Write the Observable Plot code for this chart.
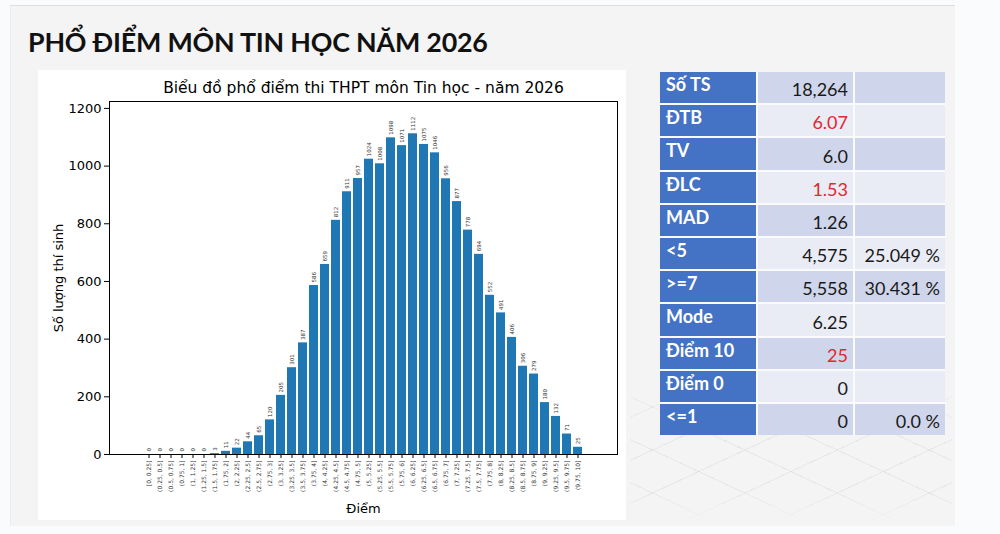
<!DOCTYPE html>
<html>
<head>
<meta charset="utf-8">
<script src="https://cdn.jsdelivr.net/npm/d3@7"></script>
<script src="https://cdn.jsdelivr.net/npm/@observablehq/plot@0.6"></script>
<style>
  html, body { margin: 0; padding: 0; }
  body { width: 1000px; height: 534px; background: #fafbfd; position: relative; overflow: hidden; font-family: "DejaVu Sans", sans-serif; }
  #panel { position: absolute; left: 10px; top: 5px; width: 944px; height: 520px; background: #f4f4f4; border-top: 1px solid #dedede; border-left: 1px solid #ececec; }
  #pattern { position: absolute; left: 630px; top: 360px; width: 322px; height: 165px;
    background:
      repeating-linear-gradient(25deg, transparent 0 38px, rgba(0,0,0,0.05) 38px 39px),
      repeating-linear-gradient(-25deg, transparent 0 38px, rgba(0,0,0,0.05) 38px 39px);
    -webkit-mask-image: linear-gradient(to bottom, transparent, black 40%, black 80%, transparent);
  }
  #title { position: absolute; left: 28px; top: 26px; font-family: "Lato", sans-serif; font-weight: 700; font-size: 26.8px; color: #111; white-space: nowrap; letter-spacing: -0.2px; }
  #chartbox { position: absolute; left: 38px; top: 70px; width: 588px; height: 450px; background: #fff; }
  #chartbox svg { position: absolute; left: 0; top: 0; }
  #table { position: absolute; left: 660px; top: 72px; display: grid; grid-template-columns: 96px 95px 90px; grid-auto-rows: 31.2px; gap: 2px; background: #fbfbfd; font-family: "Lato", sans-serif; }
  .lab { background: #4472c4; color: #fff; font-weight: 700; font-size: 18px; padding: 1px 0 0 6px; line-height: 22px; }
  .val { font-size: 18px; color: #1a1a1a; text-align: right; padding: 0 5px 0 0; line-height: 20px; display: flex; align-items: flex-end; justify-content: flex-end; padding-bottom: 4px; box-sizing: border-box; }
  .dark { background: #cfd5ea; }
  .light { background: #e9ebf5; }
  .red { color: #e3262f; }
</style>
</head>
<body>
<div id="panel"></div>
<div id="pattern"></div>
<div id="title">PHỔ ĐIỂM MÔN TIN HỌC NĂM 2026</div>
<div id="chartbox"></div>
<div id="table"></div>
<script>
// ---- Data ----
const binLabels = [
  "[0, 0.25]", "(0.25, 0.5]", "(0.5, 0.75]", "(0.75, 1]", "(1, 1.25]", "(1.25, 1.5]", "(1.5, 1.75]", "(1.75, 2]",
  "(2, 2.25]", "(2.25, 2.5]", "(2.5, 2.75]", "(2.75, 3]", "(3, 3.25]", "(3.25, 3.5]", "(3.5, 3.75]", "(3.75, 4]",
  "(4, 4.25]", "(4.25, 4.5]", "(4.5, 4.75]", "(4.75, 5]", "(5, 5.25]", "(5.25, 5.5]", "(5.5, 5.75]", "(5.75, 6]",
  "(6, 6.25]", "(6.25, 6.5]", "(6.5, 6.75]", "(6.75, 7]", "(7, 7.25]", "(7.25, 7.5]", "(7.5, 7.75]", "(7.75, 8]",
  "(8, 8.25]", "(8.25, 8.5]", "(8.5, 8.75]", "(8.75, 9]", "(9, 9.25]", "(9.25, 9.5]", "(9.5, 9.75]", "(9.75, 10]"
];
const counts = [
  0, 0, 0, 0, 0, 0, 3, 11,
  22, 44, 65, 120, 205, 301, 387, 586,
  659, 812, 911, 957, 1024, 1008, 1098, 1071,
  1112, 1075, 1046, 956, 877, 778, 694, 552,
  491, 406, 306, 279, 180, 132, 71, 25
];
const yTicks = [0, 200, 400, 600, 800, 1000, 1200];

const chartTitle = "Biểu đồ phổ điểm thi THPT môn Tin học - năm 2026";
const xLabel = "Điểm";
const yLabel = "Số lượng thí sinh";

const statLabels = ["Số TS", "ĐTB", "TV", "ĐLC", "MAD", "<5", ">=7", "Mode", "Điểm 10", "Điểm 0", "<=1"];
const statValues = ["18,264", "6.07", "6.0", "1.53", "1.26", "4,575", "5,558", "6.25", "25", "0", "0"];
const statPcts   = ["", "", "", "", "", "25.049 %", "30.431 %", "", "", "", "0.0 %"];
const redStats   = ["ĐTB", "ĐLC", "Điểm 10"];

// ---- Chart ----
const data = binLabels.map((b, i) => ({bin: b, count: counts[i]}));

const chart = Plot.plot({
  width: 588,
  height: 450,
  marginLeft: 71,
  marginRight: 9,
  marginTop: 31,
  marginBottom: 66,
  style: {fontFamily: "DejaVu Sans, sans-serif", background: "white", color: "#000"},
  x: {type: "band", domain: binLabels, paddingInner: 0.2, paddingOuter: 1.99, axis: null},
  y: {domain: [0, 1224], axis: null},
  marks: [
    Plot.barY(data, {x: "bin", y: "count", fill: "#1f77b4"}),
    Plot.text(data, {x: "bin", y: "count", text: d => String(d.count), rotate: -90, textAnchor: "start", dy: -3, fontSize: 5.5, fill: "#333"}),
    Plot.axisX({tickRotate: -90, fontSize: 6, tickSize: 4, tickPadding: 2, stroke: "#000", fill: "#333", label: null}),
    Plot.axisY({ticks: yTicks, tickFormat: d => String(d), tickSize: 5, tickPadding: 3, fontSize: 13, stroke: "#000", fill: "#000", label: null}),
    Plot.frame({stroke: "#000", strokeWidth: 1}),
    Plot.text([chartTitle], {frameAnchor: "top", lineAnchor: "middle", dy: -13, fontSize: 15.5, fill: "#000"}),
    Plot.text([xLabel], {frameAnchor: "bottom", lineAnchor: "middle", dy: 54, fontSize: 13, fill: "#000"}),
    Plot.text([yLabel], {frameAnchor: "left", dx: -51, rotate: -90, textAnchor: "middle", fontSize: 13, fill: "#000"})
  ]
});
document.getElementById("chartbox").appendChild(chart);

// ---- Stats table ----
const table = document.getElementById("table");
statLabels.forEach((lab, i) => {
  const band = i % 2 === 0 ? "dark" : "light";
  const l = document.createElement("div");
  l.className = "lab";
  l.textContent = lab;
  table.appendChild(l);
  const v = document.createElement("div");
  v.className = "val " + band + (redStats.includes(lab) ? " red" : "");
  v.textContent = statValues[i];
  table.appendChild(v);
  const p = document.createElement("div");
  p.className = "val " + band;
  p.textContent = statPcts[i];
  table.appendChild(p);
});
</script>
</body>
</html>
